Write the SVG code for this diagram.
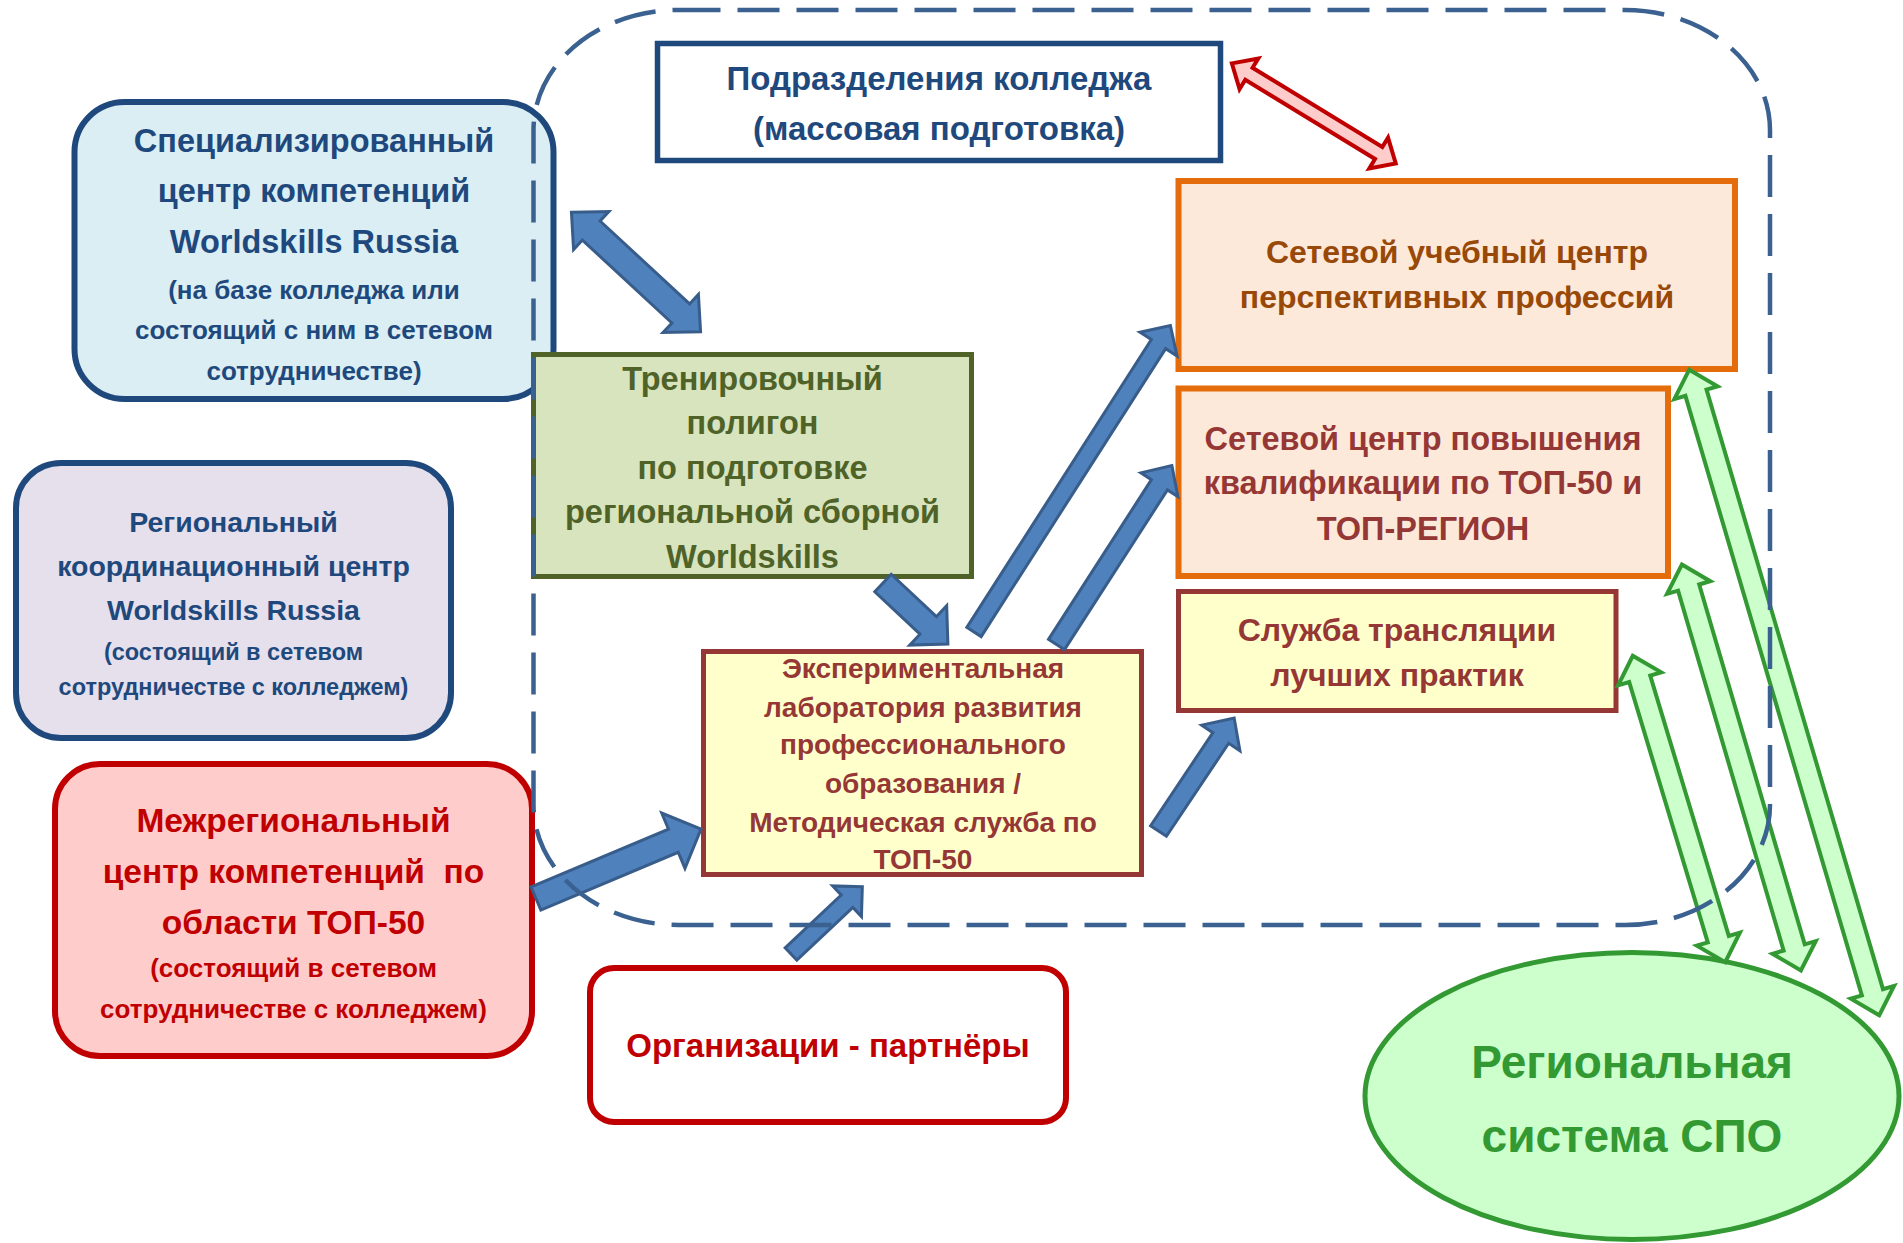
<svg xmlns="http://www.w3.org/2000/svg" width="1903" height="1243" viewBox="0 0 1903 1243">
<style>
text{font-family:"Liberation Sans",Arial,sans-serif;font-weight:bold;text-anchor:middle}
.blue{fill:#1F497D}
.red{fill:#C00000}
.olive{fill:#4F6228}
.brown{fill:#984807}
.maroon{fill:#953735}
.green{fill:#339933}
.arrB{fill:#4F81BD;stroke:#385D8A;stroke-width:3;stroke-linejoin:miter}
.arrR{fill:#FFCCCC;stroke:#C00000;stroke-width:4;stroke-linejoin:miter}
.arrG{fill:#CCFFCC;stroke:#339933;stroke-width:4;stroke-linejoin:miter}
</style>
<rect width="1903" height="1243" fill="#FFFFFF"/>

<g id="podrazdeleniya">
<rect x="657.5" y="43.5" width="563" height="117" fill="#FFFFFF" stroke="#1F497D" stroke-width="5.5"/>
<text class="blue" x="939" y="90" font-size="33">Подразделения колледжа</text>
<text class="blue" x="939" y="140" font-size="33">(массовая подготовка)</text>
</g>

<g id="spec-center">
<rect x="74.5" y="102" width="479" height="297" rx="50" ry="50" fill="#DBEEF4" stroke="#1F497D" stroke-width="6"/>
<text class="blue" x="314" y="152" font-size="32.5">Специализированный</text>
<text class="blue" x="314" y="202" font-size="32.5">центр компетенций</text>
<text class="blue" x="314" y="253" font-size="32.5">Worldskills Russia</text>
<text class="blue" x="314" y="298.5" font-size="26">(на базе колледжа или</text>
<text class="blue" x="314" y="338.5" font-size="26">состоящий с ним в сетевом</text>
<text class="blue" x="314" y="380" font-size="26">сотрудничестве)</text>
</g>

<g id="regional-center">
<rect x="16" y="463" width="435" height="275" rx="45" ry="45" fill="#E5E0EC" stroke="#1F497D" stroke-width="6"/>
<text class="blue" x="233.5" y="532" font-size="28.5">Региональный</text>
<text class="blue" x="233.5" y="576" font-size="28.5">координационный центр</text>
<text class="blue" x="233.5" y="620" font-size="28.5">Worldskills Russia</text>
<text class="blue" x="233.5" y="659.5" font-size="23.5">(состоящий в сетевом</text>
<text class="blue" x="233.5" y="695" font-size="23.5">сотрудничестве с колледжем)</text>
</g>

<g id="mezhregional-center">
<rect x="55" y="764" width="477" height="292" rx="45" ry="45" fill="#FFCCCC" stroke="#C00000" stroke-width="6"/>
<text class="red" x="293.5" y="832" font-size="33.5">Межрегиональный</text>
<text class="red" x="293.5" y="883" font-size="33.5" xml:space="preserve">центр компетенций  по</text>
<text class="red" x="293.5" y="934" font-size="33.5">области ТОП-50</text>
<text class="red" x="293.5" y="977" font-size="26">(состоящий в сетевом</text>
<text class="red" x="293.5" y="1018" font-size="26">сотрудничестве с колледжем)</text>
</g>

<g id="polygon">
<rect x="533.5" y="354.5" width="438" height="222" fill="#D7E4BD" stroke="#4F6228" stroke-width="5"/>
<text class="olive" x="752.5" y="389.5" font-size="32.5">Тренировочный</text>
<text class="olive" x="752.5" y="434" font-size="32.5">полигон</text>
<text class="olive" x="752.5" y="478.5" font-size="32.5">по подготовке</text>
<text class="olive" x="752.5" y="523" font-size="32.5">региональной сборной</text>
<text class="olive" x="752.5" y="567.5" font-size="32.5">Worldskills</text>
</g>

<g id="lab">
<rect x="703.5" y="651.5" width="438" height="223" fill="#FFFFCC" stroke="#953735" stroke-width="5"/>
<text class="maroon" x="923" y="678" font-size="28">Экспериментальная</text>
<text class="maroon" x="923" y="717" font-size="28">лаборатория развития</text>
<text class="maroon" x="923" y="754" font-size="28">профессионального</text>
<text class="maroon" x="923" y="793" font-size="28">образования /</text>
<text class="maroon" x="923" y="832" font-size="28">Методическая служба по</text>
<text class="maroon" x="923" y="869" font-size="28">ТОП-50</text>
</g>

<g id="partners">
<rect x="590" y="968" width="476" height="154" rx="24" ry="24" fill="#FFFFFF" stroke="#C00000" stroke-width="6"/>
<text class="red" x="828" y="1057" font-size="33">Организации - партнёры</text>
</g>

<g id="network-training-center">
<rect x="1178.5" y="181" width="556.5" height="188" fill="#FDE9D9" stroke="#E46C0A" stroke-width="6"/>
<text class="brown" x="1457" y="263" font-size="32">Сетевой учебный центр</text>
<text class="brown" x="1457" y="307.5" font-size="32">перспективных профессий</text>
</g>

<g id="network-qualification-center">
<rect x="1178.5" y="388.5" width="489.5" height="187.5" fill="#FDE9D9" stroke="#E46C0A" stroke-width="6"/>
<text class="maroon" x="1423" y="450" font-size="32.5">Сетевой центр повышения</text>
<text class="maroon" x="1423" y="494" font-size="32.5">квалификации по ТОП-50 и</text>
<text class="maroon" x="1423" y="540" font-size="32.5">ТОП-РЕГИОН</text>
</g>

<g id="best-practices">
<rect x="1178.5" y="591.5" width="437.5" height="119" fill="#FFFFCC" stroke="#953735" stroke-width="5"/>
<text class="maroon" x="1397" y="641" font-size="32">Служба трансляции</text>
<text class="maroon" x="1397" y="686" font-size="32">лучших практик</text>
</g>

<g id="regional-spo">
<ellipse cx="1632" cy="1096" rx="267" ry="143.5" fill="#CCFFCC" stroke="#339933" stroke-width="5"/>
<text class="green" x="1632" y="1078" font-size="46">Региональная</text>
<text class="green" x="1632" y="1152" font-size="46">система СПО</text>
</g>

<g id="connectors">
<polygon class="arrB" transform="translate(636,272) rotate(42.8)" points="-88,0 -61,-26 -61,-13 61,-13 61,-26 88,0 61,26 61,13 -61,13 -61,26"/>
<polygon class="arrB" transform="translate(883,583) rotate(43.2)" points="0,-12 62,-12 62,-27 89,0 62,27 62,12 0,12"/>
<polygon class="arrB" transform="translate(974,632) rotate(-57.35)" points="0,-8.5 342,-8.5 342,-22 364,0 342,22 342,8.5 0,8.5"/>
<polygon class="arrB" transform="translate(1056.5,644.5) rotate(-57.2)" points="0,-9.5 190,-9.5 190,-22 213,0 190,22 190,9.5 0,9.5"/>
<polygon class="arrB" transform="translate(1158.5,831) rotate(-56.2)" points="0,-9.5 112,-9.5 112,-23 136,0 112,23 112,9.5 0,9.5"/>
<polygon class="arrB" transform="translate(536,898.5) rotate(-22.8)" points="0,-12.5 149,-12.5 149,-30 179,0 149,30 149,12.5 0,12.5"/>
<polygon class="arrB" transform="translate(791,954) rotate(-43.3)" points="0,-8.5 77,-8.5 77,-21 98,0 77,21 77,8.5 0,8.5"/>
<polygon class="arrR" transform="translate(1313.8,113.4) rotate(31.4)" points="-96,0 -76,-18 -76,-7 76,-7 76,-18 96,0 76,18 76,7 -76,7 -76,18"/>
<polygon class="arrG" transform="translate(1784.2,692.5) rotate(73.6)" points="-336.5,0 -312.5,-22.5 -312.5,-11 312.5,-11 312.5,-22.5 336.5,0 312.5,22.5 312.5,11 -312.5,11 -312.5,22.5"/>
<polygon class="arrG" transform="translate(1741.4,767.5) rotate(73.66)" points="-211.5,0 -187.5,-22.5 -187.5,-11 187.5,-11 187.5,-22.5 211.5,0 187.5,22.5 187.5,11 -187.5,11 -187.5,22.5"/>
<polygon class="arrG" transform="translate(1679,809) rotate(73.2)" points="-160,0 -136,-22.5 -136,-11 136,-11 136,-22.5 160,0 136,22.5 136,11 -136,11 -136,22.5"/>
</g>

<g id="college-boundary">
<rect x="533.5" y="10" width="1236.5" height="915" rx="145" ry="120" fill="none" stroke="#3A6190" stroke-width="4.5" stroke-dasharray="42 17"/>
</g>
</svg>
